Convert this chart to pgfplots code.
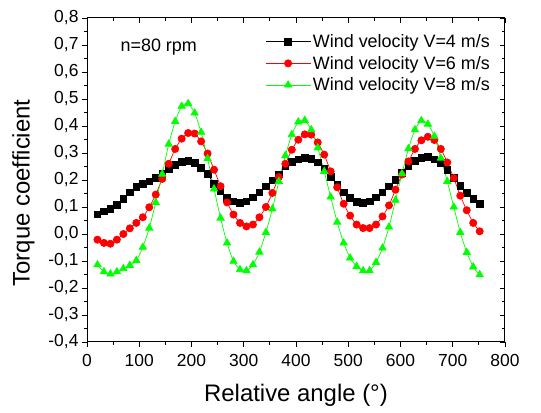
\documentclass[border=0pt]{standalone}
\usepackage{fontspec}
\setmainfont{Liberation Sans}
\usepackage{pgfplots}
\usepackage{pgfplotstable}
\pgfplotsset{compat=1.18}
\definecolor{cred}{RGB}{255,0,0}
\definecolor{cgreen}{RGB}{0,255,0}
\pgfplotstableread{
x a b c
20 0.073 -0.021 -0.114
32.4 0.084 -0.033 -0.140
44.8 0.093 -0.036 -0.148
57.2 0.107 -0.021 -0.140
69.6 0.131 0.000 -0.128
82 0.154 0.021 -0.116
94.4 0.174 0.041 -0.098
106.8 0.185 0.062 -0.049
119.2 0.195 0.099 0.022
131.6 0.207 0.146 0.117
144 0.223 0.204 0.222
156.4 0.241 0.260 0.333
168.8 0.257 0.315 0.417
181.2 0.268 0.353 0.473
193.6 0.271 0.374 0.483
206 0.263 0.372 0.448
218.4 0.246 0.343 0.377
230.8 0.222 0.298 0.279
243.2 0.185 0.238 0.167
255.6 0.158 0.177 0.059
268 0.134 0.117 -0.033
280.4 0.121 0.072 -0.101
292.8 0.116 0.041 -0.132
305.2 0.121 0.028 -0.136
317.6 0.136 0.035 -0.114
330 0.154 0.062 -0.067
342.4 0.176 0.100 0.006
354.8 0.199 0.152 0.093
367.2 0.221 0.211 0.195
379.6 0.250 0.260 0.290
392 0.267 0.312 0.368
404.4 0.277 0.349 0.415
416.8 0.283 0.369 0.421
429.2 0.279 0.368 0.386
441.6 0.265 0.339 0.319
454 0.243 0.294 0.232
466.4 0.211 0.232 0.137
478.8 0.184 0.173 0.044
491.2 0.154 0.112 -0.033
503.6 0.133 0.068 -0.089
516 0.119 0.035 -0.120
528.4 0.115 0.022 -0.136
540.8 0.121 0.022 -0.136
553.2 0.136 0.035 -0.105
565.6 0.154 0.065 -0.052
578 0.177 0.106 0.026
590.4 0.201 0.164 0.125
602.8 0.226 0.220 0.223
615.2 0.251 0.269 0.316
627.6 0.271 0.315 0.386
640 0.281 0.347 0.420
652.4 0.285 0.360 0.407
664.8 0.277 0.348 0.362
677.2 0.263 0.315 0.281
689.6 0.238 0.265 0.195
702 0.207 0.207 0.100
714.4 0.179 0.142 0.006
726.8 0.152 0.088 -0.068
739.2 0.130 0.041 -0.122
751.6 0.112 0.010 -0.151
}\datatable
\begin{document}
\begin{tikzpicture}
\pgfplotsset{
  common/.style={
    at={(87bp,71bp)}, anchor=south west,
    width=418bp, height=324bp, scale only axis,
    xmin=0, xmax=800, ymin=-0.4, ymax=0.8,
    xtick={0,100,200,300,400,500,600,700,800},
    ytick={-0.4,-0.3,-0.2,-0.1,0,0.1,0.2,0.3,0.4,0.5,0.6,0.7,0.8},
    minor x tick num=1, minor y tick num=1,
    major tick length=5bp, minor tick length=3bp,
    tick style={black, line width=0.8bp},
    axis line style={black, line width=1bp},
  }
}
\begin{axis}[common,
    tick align=outside, xtick pos=bottom, ytick pos=left,
    /pgf/number format/assume math mode=true,
    xticklabel style={font=\fontsize{17.5}{20}\selectfont, /pgf/number format/fixed, yshift=-4bp},
    yticklabel style={font=\fontsize{17.5}{20}\selectfont, /pgf/number format/fixed,
       /pgf/number format/fixed zerofill, /pgf/number format/precision=1,
       /pgf/number format/use comma},
    xlabel={Relative angle (°)},
    ylabel={Torque coefficient},
    xlabel style={font=\fontsize{24}{28}\selectfont, at={(axis description cs:0.5,-0.164)}, anchor=center},
    ylabel style={font=\fontsize{24}{28}\selectfont, at={(axis description cs:-0.152,0.46)}, anchor=center},
    legend style={at={(0.426,0.956)}, anchor=north west, draw=none, fill=none,
       font=\fontsize{18}{20}\selectfont, inner sep=0pt, row sep=3.2bp},
    legend cell align=left,
    legend image code/.code={\draw[mark repeat=2,mark phase=2,#1] plot coordinates {(0bp,0bp) (22.5bp,0bp) (45bp,0bp)};},
]
\addplot[black, line width=0.7bp, smooth, tension=0.4, mark=square*, mark size=3.3bp, mark options={solid}] table[x=x,y=a] {\datatable};
\addlegendentry{Wind velocity V=4 m/s}
\addplot[cred, line width=0.7bp, smooth, tension=0.4, mark=*, mark size=3.6bp, mark options={solid}] table[x=x,y=b] {\datatable};
\addlegendentry{Wind velocity V=6 m/s}
\addplot[cgreen, line width=0.7bp, smooth, tension=0.4, mark=triangle*, mark size=4.2bp, mark options={solid}] table[x=x,y=c] {\datatable};
\addlegendentry{Wind velocity V=8 m/s}
\node[anchor=west, inner sep=0pt, font=\fontsize{18}{20}\selectfont] at (axis cs:64,0.691) {n=80 rpm};
\end{axis}
\begin{axis}[common,
    tick align=inside, xtick pos=top, ytick pos=right,
    xticklabels={}, yticklabels={},
]
\end{axis}
\pgfresetboundingbox
\path (0,0) rectangle (541bp,413bp);
\end{tikzpicture}
\end{document}
